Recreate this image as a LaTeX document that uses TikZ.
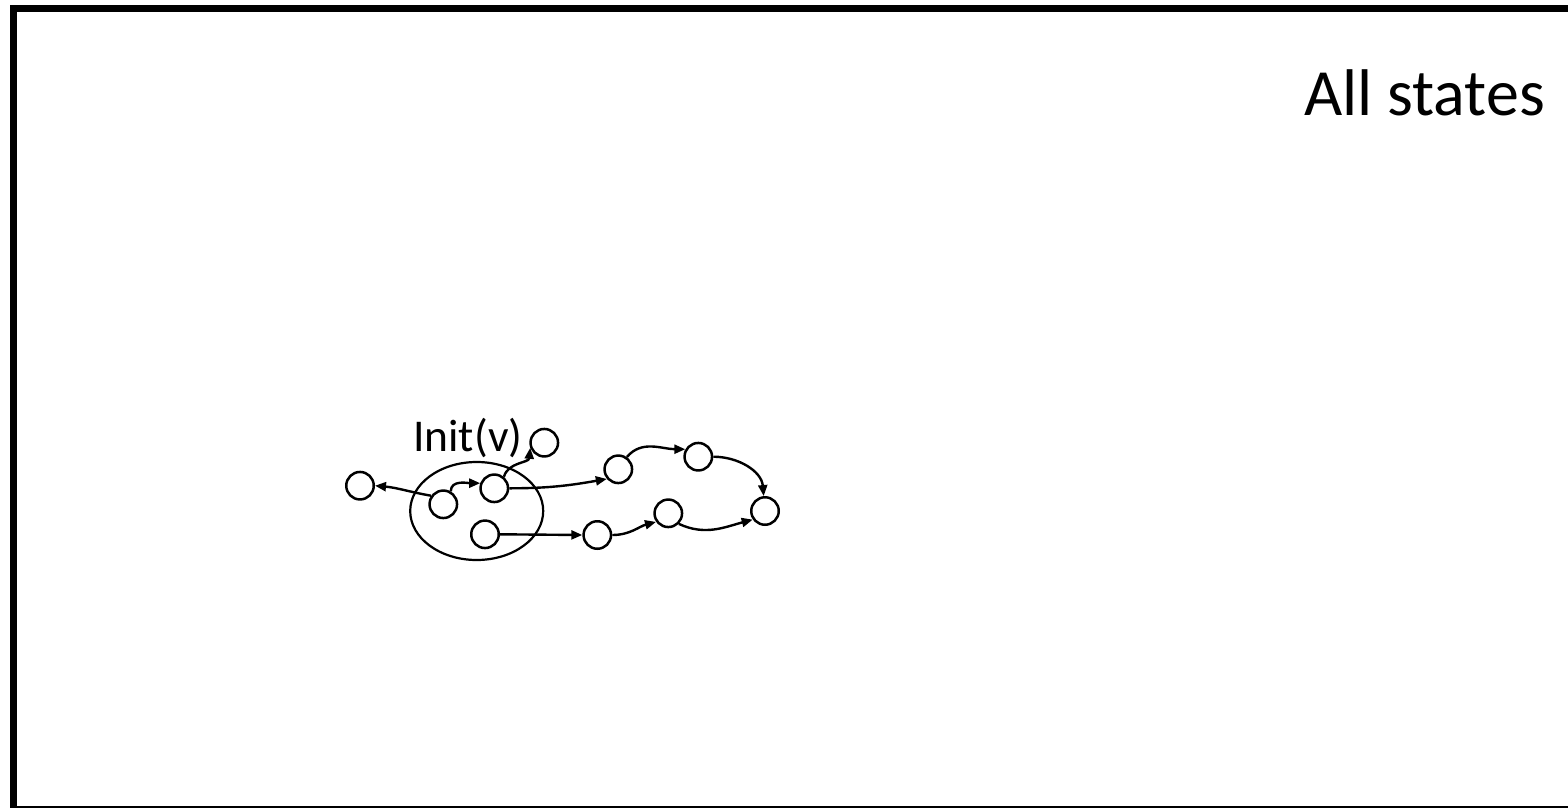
\documentclass[tikz,border=0pt]{standalone}
\usepackage{fontspec}
\setmainfont{Carlito}
\usetikzlibrary{arrows.meta}
\begin{document}
\begin{tikzpicture}[x=1pt,y=-1pt,
  st/.style={circle,draw,line width=2.5pt,minimum size=27.5pt,inner sep=0pt},
  tr/.style={line width=2.4pt,-{Triangle[length=11pt,width=9pt]}},
  lbl/.style={inner sep=0pt,anchor=base west}]
\useasboundingbox (0,0) rectangle (1568,808);
% outer frame of the state space
\draw[line width=7pt] (1568,8.5) -- (13.5,8.5) -- (13.5,809.5) -- (1568,809.5);
\node[lbl,font=\fontsize{66}{72}\selectfont] (all) at (1304,115) {All states};
% set of initial states
\draw[line width=2.2pt] (476.7,511) ellipse [x radius=66.5, y radius=49];
\node[lbl,font=\fontsize{45.5}{50}\selectfont] (init) at (413,451) {Init(v)};
% states
\node[st] (l) at (360,485.7) {};
\node[st] (a) at (443.3,504.3) {};
\node[st] (b) at (494.3,488.3) {};
\node[st] (c) at (485,534.3) {};
\node[st] (t) at (544.3,442.7) {};
\node[st] (d) at (618.3,469.3) {};
\node[st] (f) at (698.3,456.7) {};
\node[st] (g) at (765,511) {};
\node[st] (h) at (668.3,513.3) {};
\node[st] (e) at (597.3,535) {};
% transitions
\draw[tr] (a.145) to[out=170,in=-5] (l.east);
\draw[tr] (a.60) to[out=90,in=180] (b.160);
\draw[tr] (b.50) to[out=75,in=-95] (t.200);
\draw[tr] (b.east) to[out=0,in=190] (d.220);
\draw[tr] (c.east) -- (e.west);
\draw[tr] (d.55) to[out=50,in=180] (f.150);
\draw[tr] (f.east) to[out=0,in=95] (g.95);
\draw[tr] (e.east) to[out=0,in=195] (h.215);
\draw[tr] (h.315) to[out=-25,in=195] (g.215);
\end{tikzpicture}
\end{document}
